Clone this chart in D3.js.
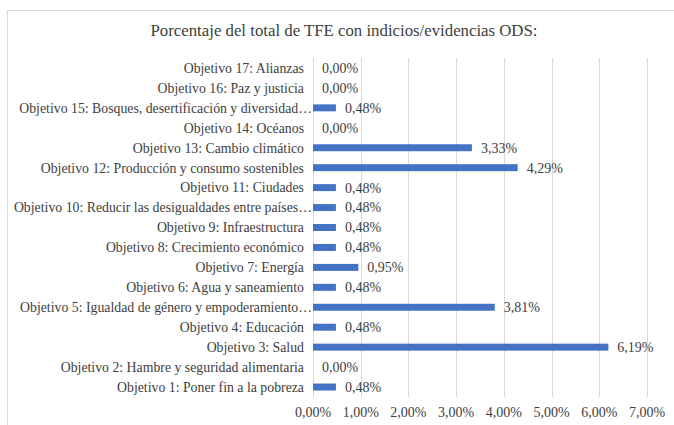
<!DOCTYPE html>
<html>
<head>
<meta charset="utf-8">
<script src="https://cdn.jsdelivr.net/npm/d3@7"></script>
<style>
  body { margin: 0; background: #fff; }
</style>
</head>
<body>
<div id="chart"></div>
<script>
// categories from top to bottom, as shown
const categories = [
  "Objetivo 17: Alianzas",
  "Objetivo 16: Paz y justicia",
  "Objetivo 15: Bosques, desertificación y diversidad…",
  "Objetivo 14: Océanos",
  "Objetivo 13: Cambio climático",
  "Objetivo 12: Producción y consumo sostenibles",
  "Objetivo 11: Ciudades",
  "Objetivo 10: Reducir las desigualdades entre países…",
  "Objetivo 9: Infraestructura",
  "Objetivo 8: Crecimiento económico",
  "Objetivo 7: Energía",
  "Objetivo 6: Agua y saneamiento",
  "Objetivo 5: Igualdad de género y empoderamiento…",
  "Objetivo 4: Educación",
  "Objetivo 3: Salud",
  "Objetivo 2: Hambre y seguridad alimentaria",
  "Objetivo 1: Poner fin a la pobreza"
];
const values = [0, 0, 0.48, 0, 3.33, 4.29, 0.48, 0.48, 0.48, 0.48, 0.95, 0.48, 3.81, 0.48, 6.19, 0, 0.48];
const xTicks = [0, 1, 2, 3, 4, 5, 6, 7];
const title = "Porcentaje del total de TFE con indicios/evidencias ODS:";

const width = 674, height = 425;
const plot = { left: 313, right: 647, top: 58, bottom: 397 };
const serif = '"Liberation Serif"';
const fmt = v => v.toFixed(2).replace(".", ",") + "%";

const svg = d3.select("#chart").append("svg")
  .attr("width", width)
  .attr("height", height);

// chart frame
svg.append("rect")
  .attr("x", 7.5).attr("y", 10.5)
  .attr("width", 700).attr("height", 450)
  .attr("fill", "#fff")
  .attr("stroke", "#d9d9d9");

svg.append("text")
  .attr("x", 344).attr("y", 36)
  .attr("text-anchor", "middle")
  .attr("fill", "#404040")
  .style("font-family", serif)
  .style("font-size", "16.8px")
  .text(title);

const x = d3.scaleLinear().domain([0, 7]).range([plot.left, plot.right]);
const y = d3.scaleBand().domain(categories).range([plot.top, plot.bottom]).paddingInner(0.65).paddingOuter(0.325);

// gridlines
svg.append("g")
  .selectAll("line")
  .data(xTicks).enter()
  .append("line")
  .attr("x1", d => Math.round(x(d)) + 0.5)
  .attr("x2", d => Math.round(x(d)) + 0.5)
  .attr("y1", plot.top)
  .attr("y2", plot.bottom)
  .attr("stroke", "#d9d9d9");

// x tick labels
svg.append("g")
  .selectAll("text")
  .data(xTicks).enter()
  .append("text")
  .attr("x", d => x(d))
  .attr("y", 417)
  .attr("text-anchor", "middle")
  .attr("fill", "#404040")
  .style("font-family", serif)
  .style("font-size", "14px")
  .text(d => fmt(d));

// category labels
svg.append("g")
  .selectAll("text")
  .data(categories).enter()
  .append("text")
  .attr("x", d => d.endsWith("…") ? 312 : 304)
  .attr("y", d => y(d) + y.bandwidth() / 2)
  .attr("dy", "0.35em")
  .attr("text-anchor", "end")
  .attr("fill", "#404040")
  .style("font-family", serif)
  .style("font-size", "13.8px")
  .text(d => d);

// bars
svg.append("g")
  .selectAll("rect")
  .data(values).enter()
  .append("rect")
  .attr("x", x(0))
  .attr("y", (d, i) => y(categories[i]))
  .attr("width", d => x(d) - x(0))
  .attr("height", y.bandwidth())
  .attr("fill", "#4472c4");

// value labels
svg.append("g")
  .selectAll("text")
  .data(values).enter()
  .append("text")
  .attr("x", d => x(d) + 9)
  .attr("y", (d, i) => y(categories[i]) + y.bandwidth() / 2)
  .attr("dy", "0.35em")
  .attr("fill", "#404040")
  .style("font-family", serif)
  .style("font-size", "14px")
  .text(d => fmt(d));
</script>
</body>
</html>
